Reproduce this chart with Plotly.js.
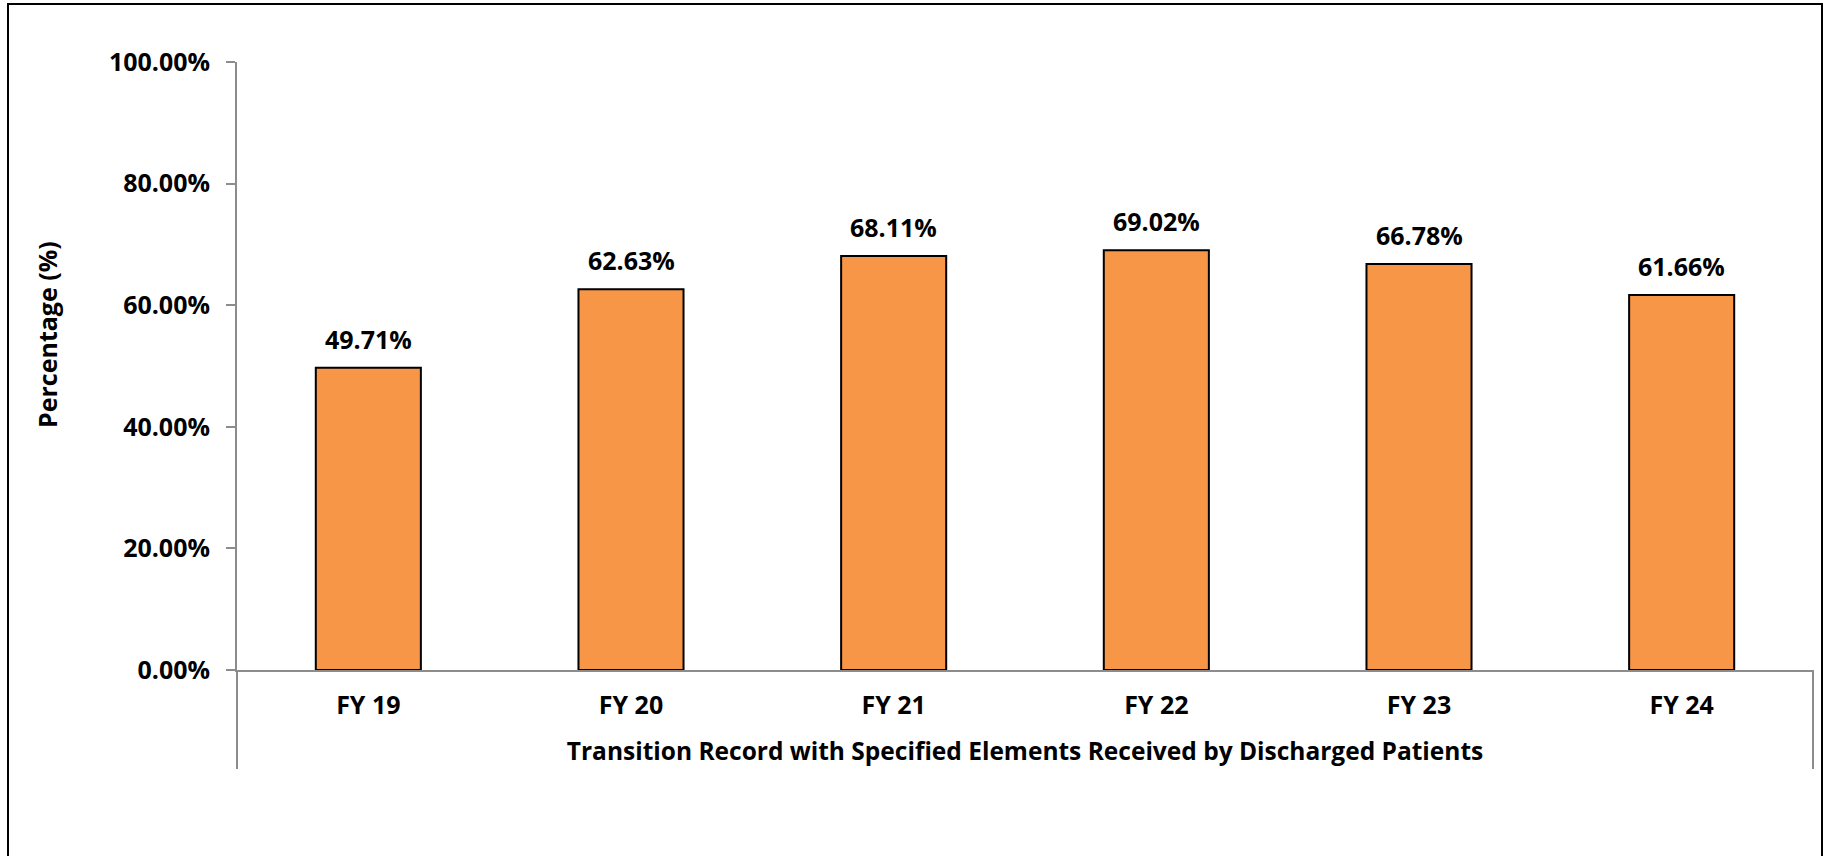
<!DOCTYPE html>
<html>
<head>
<meta charset="utf-8">
<script src="https://cdn.plot.ly/plotly-3.0.1.min.js"></script>
<style>
  html, body { margin: 0; padding: 0; background: #fff; overflow: hidden; }
  #chart { width: 1829px; height: 856px; }
  #frame { position: absolute; left: 7px; top: 3px; width: 1816px; height: 900px;
           border: 2px solid #000; box-sizing: border-box; pointer-events: none; }
</style>
</head>
<body>
<div id="chart"></div>
<div id="frame"></div>
<script>
const categories = ['FY 19', 'FY 20', 'FY 21', 'FY 22', 'FY 23', 'FY 24'];
const values = [49.71, 62.63, 68.11, 69.02, 66.78, 61.66];
const yTickVals = [0, 20, 40, 60, 80, 100];
const xTitle = 'Transition Record with Specified Elements Received by Discharged Patients';
const yTitle = 'Percentage (%)';

const W = 1829, H = 856;
const L = 237, R = 16, T = 62, B = 186;
const plotW = W - L - R, plotH = H - T - B;
const FONT = '"Open Sans", "Noto Sans", sans-serif';
const axisColor = '#8c8c8c';

const trace = {
  type: 'bar',
  x: categories,
  y: values,
  marker: { color: '#F79646', line: { color: '#000', width: 2 } },
  hoverinfo: 'skip'
};

const labelAnn = categories.map((c, i) => ({
  x: c, y: values[i], xref: 'x', yref: 'y',
  text: values[i].toFixed(2) + '%',
  showarrow: false, yanchor: 'bottom', yshift: 10,
  font: { family: FONT, size: 25, color: '#000', weight: 'bold' }
}));

const annotations = labelAnn.concat([{
  xref: 'paper', yref: 'paper',
  x: (47 - L) / plotW, y: (H - B - 335) / plotH,
  text: yTitle, textangle: -90, showarrow: false,
  xanchor: 'center', yanchor: 'middle',
  font: { family: FONT, size: 25, color: '#000', weight: 'bold' }
}]);

const divDepth = (769 - (H - B)) / plotH;
const shapes = [0, 1].map(px => ({
  type: 'line', xref: 'paper', yref: 'paper',
  x0: px, x1: px, y0: 0, y1: -divDepth,
  line: { color: axisColor, width: 2 }
}));

const layout = {
  width: W, height: H,
  margin: { l: L, r: R, t: T, b: B, pad: 0 },
  paper_bgcolor: '#fff', plot_bgcolor: '#fff',
  showlegend: false,
  bargap: 0.6,
  font: { family: FONT, size: 25, color: '#000', weight: 'bold' },
  xaxis: {
    type: 'category',
    range: [-0.5, categories.length - 0.5],
    showline: true, linecolor: axisColor, linewidth: 2,
    ticks: '', showgrid: false, zeroline: false,
    tickfont: { family: FONT, size: 25, color: '#000', weight: 'bold' },
    ticklabelstandoff: 12,
    title: { text: xTitle, standoff: 23,
             font: { family: FONT, size: 24.5, color: '#000', weight: 'bold' } },
    fixedrange: true
  },
  yaxis: {
    range: [0, 100],
    tickvals: yTickVals,
    ticktext: yTickVals.map(v => v.toFixed(2) + '%'),
    showline: true, linecolor: axisColor, linewidth: 2,
    ticks: 'outside', ticklen: 9, tickcolor: axisColor, tickwidth: 2,
    ticklabelstandoff: 11,
    showgrid: false, zeroline: false,
    tickfont: { family: FONT, size: 25, color: '#000', weight: 'bold' },
    fixedrange: true
  },
  annotations: annotations,
  shapes: shapes
};

Plotly.newPlot('chart', [trace], layout, { displayModeBar: false, staticPlot: true });
</script>
</body>
</html>
